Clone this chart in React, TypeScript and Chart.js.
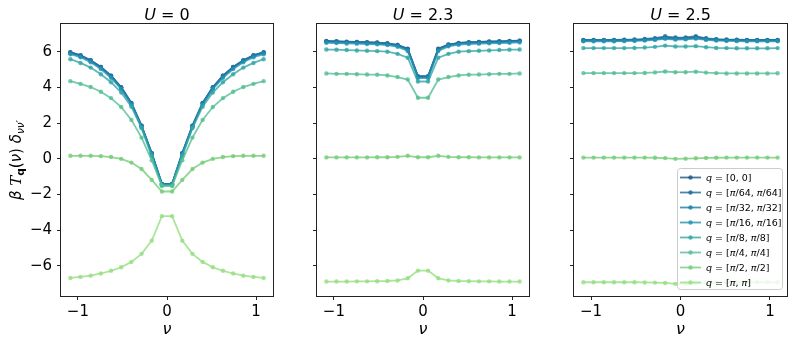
import React, { useEffect, useRef } from "react";
import Chart from "chart.js/auto";

// Matsubara frequencies nu
const NU = [-1.0853, -0.971, -0.8568, -0.7426, -0.6283, -0.5141, -0.3998, -0.2856, -0.1714, -0.0571,
  0.0571, 0.1714, 0.2856, 0.3998, 0.5141, 0.6283, 0.7426, 0.8568, 0.971, 1.0853];

const X_TICKS = [-1, 0, 1];
const Y_TICKS = [-6, -4, -2, 0, 2, 4, 6];

const Q_LABELS = ["[0, 0]", "[π/64, π/64]", "[π/32, π/32]", "[π/16, π/16]", "[π/8, π/8]", "[π/4, π/4]", "[π/2, π/2]", "[π, π]"];
const Q_COLORS = [
  [30, 86, 134], [31, 104, 152], [28, 124, 168], [34, 146, 178],
  [50, 166, 165], [84, 190, 148], [116, 205, 120], [150, 222, 130],
];
const PANEL_TITLES = ["0", "2.3", "2.5"];

// U = 0
const U0_Q0 = [5.97, 5.8, 5.52, 5.15, 4.66, 4.01, 3.13, 1.86, 0.32, -1.4, -1.4, 0.32, 1.86, 3.13, 4.01, 4.66, 5.15, 5.52, 5.8, 5.97];
const U0_Q1 = [5.96, 5.79, 5.51, 5.14, 4.65, 4.0, 3.12, 1.85, 0.31, -1.41, -1.41, 0.31, 1.85, 3.12, 4.0, 4.65, 5.14, 5.51, 5.79, 5.96];
const U0_Q2 = [5.93, 5.76, 5.48, 5.11, 4.62, 3.97, 3.09, 1.82, 0.28, -1.42, -1.42, 0.28, 1.82, 3.09, 3.97, 4.62, 5.11, 5.48, 5.76, 5.93];
const U0_Q3 = [5.86, 5.69, 5.41, 5.03, 4.54, 3.9, 3.03, 1.77, 0.24, -1.45, -1.45, 0.24, 1.77, 3.03, 3.9, 4.54, 5.03, 5.41, 5.69, 5.86];
const U0_Q4 = [5.58, 5.37, 5.11, 4.74, 4.29, 3.71, 2.92, 1.72, 0.15, -1.48, -1.48, 0.15, 1.72, 2.92, 3.71, 4.29, 4.74, 5.11, 5.37, 5.58];
const U0_Q5 = [4.35, 4.2, 4.02, 3.76, 3.4, 2.9, 2.18, 1.19, -0.08, -1.52, -1.52, -0.08, 1.19, 2.18, 2.9, 3.4, 3.76, 4.02, 4.2, 4.35];
const U0_Q6 = [0.17, 0.17, 0.17, 0.15, 0.1, 0.0, -0.21, -0.57, -1.18, -1.83, -1.83, -1.18, -0.57, -0.21, 0.0, 0.1, 0.15, 0.17, 0.17, 0.17];
const U0_Q7 = [-6.67, -6.61, -6.54, -6.42, -6.27, -6.07, -5.77, -5.32, -4.58, -3.21, -3.21, -4.58, -5.32, -5.77, -6.07, -6.27, -6.42, -6.54, -6.61, -6.67];

// U = 2.3
const U23_Q0 = [6.6, 6.58, 6.56, 6.55, 6.53, 6.51, 6.47, 6.38, 6.17, 4.63, 4.63, 6.17, 6.4, 6.49, 6.53, 6.55, 6.57, 6.58, 6.6, 6.62];
const U23_Q1 = [6.59, 6.57, 6.55, 6.54, 6.52, 6.5, 6.46, 6.37, 6.15, 4.62, 4.62, 6.15, 6.39, 6.48, 6.52, 6.54, 6.56, 6.57, 6.59, 6.61];
const U23_Q2 = [6.56, 6.54, 6.52, 6.51, 6.49, 6.47, 6.43, 6.34, 6.11, 4.58, 4.58, 6.11, 6.36, 6.45, 6.49, 6.51, 6.53, 6.54, 6.56, 6.58];
const U23_Q3 = [6.5, 6.48, 6.46, 6.45, 6.43, 6.41, 6.37, 6.28, 6.04, 4.52, 4.52, 6.04, 6.3, 6.39, 6.43, 6.45, 6.47, 6.48, 6.5, 6.52];
const U23_Q4 = [6.12, 6.11, 6.09, 6.07, 6.05, 6.03, 6.0, 5.88, 5.66, 4.33, 4.33, 5.66, 5.88, 6.0, 6.03, 6.05, 6.07, 6.09, 6.11, 6.12];
const U23_Q5 = [4.78, 4.76, 4.76, 4.74, 4.72, 4.71, 4.67, 4.58, 4.44, 3.42, 3.42, 4.44, 4.58, 4.67, 4.71, 4.72, 4.74, 4.76, 4.76, 4.78];
const U23_Q6 = [0.08, 0.08, 0.08, 0.08, 0.08, 0.09, 0.09, 0.11, 0.17, 0.09, 0.09, 0.17, 0.11, 0.09, 0.09, 0.08, 0.08, 0.08, 0.08, 0.08];
const U23_Q7 = [-6.87, -6.87, -6.87, -6.86, -6.86, -6.85, -6.84, -6.81, -6.69, -6.26, -6.26, -6.69, -6.81, -6.84, -6.85, -6.86, -6.86, -6.87, -6.87, -6.87];

// U = 2.5
const U25_Q0 = [6.64, 6.64, 6.64, 6.64, 6.65, 6.66, 6.68, 6.72, 6.78, 6.75, 6.76, 6.8, 6.72, 6.68, 6.66, 6.65, 6.64, 6.64, 6.64, 6.64];
const U25_Q1 = [6.66, 6.66, 6.66, 6.66, 6.67, 6.68, 6.71, 6.76, 6.86, 6.79, 6.8, 6.87, 6.75, 6.7, 6.68, 6.67, 6.66, 6.66, 6.66, 6.66];
const U25_Q2 = [6.63, 6.63, 6.63, 6.63, 6.64, 6.65, 6.67, 6.7, 6.76, 6.72, 6.73, 6.77, 6.7, 6.67, 6.65, 6.64, 6.63, 6.63, 6.63, 6.63];
const U25_Q3 = [6.58, 6.58, 6.58, 6.58, 6.59, 6.6, 6.62, 6.66, 6.72, 6.68, 6.69, 6.73, 6.66, 6.62, 6.6, 6.59, 6.58, 6.58, 6.58, 6.58];
const U25_Q4 = [6.2, 6.2, 6.2, 6.2, 6.2, 6.21, 6.23, 6.27, 6.34, 6.29, 6.29, 6.31, 6.25, 6.21, 6.2, 6.19, 6.19, 6.19, 6.19, 6.2];
const U25_Q5 = [4.8, 4.8, 4.8, 4.8, 4.8, 4.8, 4.81, 4.84, 4.89, 4.85, 4.85, 4.88, 4.83, 4.8, 4.78, 4.78, 4.78, 4.78, 4.78, 4.79];
const U25_Q6 = [0.07, 0.07, 0.07, 0.07, 0.07, 0.07, 0.07, 0.06, 0.04, 0.0, 0.01, 0.03, 0.05, 0.06, 0.07, 0.07, 0.07, 0.07, 0.07, 0.07];
const U25_Q7 = [-6.91, -6.91, -6.91, -6.91, -6.91, -6.91, -6.92, -6.93, -6.95, -7.0, -6.99, -6.96, -6.93, -6.92, -6.91, -6.91, -6.91, -6.91, -6.91, -6.91];

const PANEL_SERIES = [
  [U0_Q0, U0_Q1, U0_Q2, U0_Q3, U0_Q4, U0_Q5, U0_Q6, U0_Q7],
  [U23_Q0, U23_Q1, U23_Q2, U23_Q3, U23_Q4, U23_Q5, U23_Q6, U23_Q7],
  [U25_Q0, U25_Q1, U25_Q2, U25_Q3, U25_Q4, U25_Q5, U25_Q6, U25_Q7],
];

const W = 793;
const H = 346;
const PLOT_LR = [[61, 273], [317, 529], [574, 787]];
const PLOT_TOP = 24;
const PLOT_BOTTOM = 296;
const FONT = "'DejaVu Sans', sans-serif";
const ALPHA = 0.8;

const rgba = (c: number[], a: number) => `rgba(${c[0]},${c[1]},${c[2]},${a})`;
const fmt = (v: number) => (v < 0 ? "\u2212" + Math.abs(v) : String(v));

type Piece = { t: string; f: string; dy?: number };
function drawPieces(ctx: CanvasRenderingContext2D, pieces: Piece[], cx: number, y: number, align: "center" | "left") {
  let total = 0;
  for (const p of pieces) {
    ctx.font = p.f;
    total += ctx.measureText(p.t).width;
  }
  let x = align === "center" ? cx - total / 2 : cx;
  ctx.textAlign = "left";
  ctx.textBaseline = "alphabetic";
  for (const p of pieces) {
    ctx.font = p.f;
    ctx.fillText(p.t, x, y + (p.dy || 0));
    x += ctx.measureText(p.t).width;
  }
}

function labelPieces(s: string, size: number): Piece[] {
  const out: Piece[] = [];
  for (const ch of s) {
    out.push({ t: ch, f: ch === "π" ? `italic ${size}px ${FONT}` : `${size}px ${FONT}` });
  }
  return out;
}

export default function App() {
  const refs = [useRef<HTMLCanvasElement>(null), useRef<HTMLCanvasElement>(null), useRef<HTMLCanvasElement>(null)];

  useEffect(() => {
    const charts: Chart[] = [];
    PANEL_SERIES.forEach((series, p) => {
      const canvas = refs[p].current;
      if (!canvas) return;
      const [L, R] = PLOT_LR[p];

      const decor = {
        id: "decor" + p,
        afterDatasetsDraw(chart: any) {
          const ctx = chart.ctx as CanvasRenderingContext2D;
          const a = chart.chartArea;
          ctx.save();
          ctx.strokeStyle = "#222";
          ctx.lineWidth = 1;
          ctx.strokeRect(Math.round(a.left) - 0.5, Math.round(a.top) - 0.5, Math.round(a.right - a.left) + 1, Math.round(a.bottom - a.top) + 1);
          ctx.restore();
        },
        afterDraw(chart: any) {
          const ctx = chart.ctx as CanvasRenderingContext2D;
          const a = chart.chartArea;
          const cx = (a.left + a.right) / 2;
          ctx.save();
          ctx.fillStyle = "#000";
          // title
          drawPieces(ctx, [
            { t: "U", f: `italic 16px ${FONT}` },
            { t: " = " + PANEL_TITLES[p], f: `16px ${FONT}` },
          ], cx, 20, "center");
          // x title
          drawPieces(ctx, [{ t: "ν", f: `italic 16px ${FONT}` }], cx, 334, "center");
          if (p === 0) {
            ctx.save();
            ctx.translate(21, (a.top + a.bottom) / 2);
            ctx.rotate(-Math.PI / 2);
            drawPieces(ctx, [
              { t: "β ", f: `italic 15px ${FONT}` },
              { t: "T", f: `italic 15px 'DejaVu Serif', serif` },
              { t: "q", f: `bold 10.5px ${FONT}`, dy: 3 },
              { t: "(", f: `15px ${FONT}` },
              { t: "ν", f: `italic 15px ${FONT}` },
              { t: ") ", f: `15px ${FONT}` },
              { t: "δ", f: `italic 15px ${FONT}` },
              { t: "νν′", f: `italic 10.5px ${FONT}`, dy: 3 },
            ], 0, 0, "center");
            ctx.restore();
          }
          if (p === 2) {
            // legend
            const bx = 677, by = 168, bw = 105, bh = 121;
            ctx.beginPath();
            (ctx as any).roundRect(bx + 0.5, by + 0.5, bw, bh, 3);
            ctx.fillStyle = "rgba(255,255,255,0.8)";
            ctx.fill();
            ctx.strokeStyle = "#cccccc";
            ctx.lineWidth = 1;
            ctx.stroke();
            Q_LABELS.forEach((lab, i) => {
              const yc = 177.5 + 15 * i;
              const col = rgba(Q_COLORS[i], ALPHA);
              ctx.strokeStyle = col;
              ctx.lineWidth = 1.8;
              ctx.beginPath();
              ctx.moveTo(680, yc);
              ctx.lineTo(701, yc);
              ctx.stroke();
              ctx.fillStyle = col;
              ctx.beginPath();
              ctx.arc(690.5, yc, 2.2, 0, Math.PI * 2);
              ctx.fill();
              ctx.fillStyle = "#000";
              drawPieces(ctx, [
                { t: "q", f: `italic 9.5px ${FONT}` },
                { t: " = ", f: `9.5px ${FONT}` },
                ...labelPieces(lab, 9.5),
              ], 706, yc + 3.5, "left");
            });
          }
          ctx.restore();
        },
      };

      const chart = new Chart(canvas, {
        type: "line",
        data: {
          datasets: series.map((vals, i) => ({
            label: "q = " + Q_LABELS[i],
            data: NU.map((x, j) => ({ x, y: vals[j] })),
            borderColor: rgba(Q_COLORS[i], ALPHA),
            backgroundColor: rgba(Q_COLORS[i], ALPHA),
            pointRadius: 2.2,
            pointBorderWidth: 0,
            borderWidth: 1.8,
            tension: 0,
            order: -i,
          })),
        },
        options: {
          responsive: false,
          animation: false,
          devicePixelRatio: 1,
          events: [],
          layout: { padding: { left: 0, right: W - R, top: PLOT_TOP, bottom: 0 } },
          plugins: { legend: { display: false }, tooltip: { enabled: false }, title: { display: false } },
          scales: {
            x: {
              type: "linear",
              min: -1.19,
              max: 1.19,
              afterFit: (s: any) => { s.height = H - PLOT_BOTTOM; },
              afterBuildTicks: (s: any) => { s.ticks = X_TICKS.map((v) => ({ value: v })); },
              ticks: { color: "#000", font: { family: FONT, size: 15 }, padding: 3, maxRotation: 0, autoSkip: false, callback: (v: any) => fmt(Number(v)) },
              grid: { drawOnChartArea: false, drawTicks: true, tickLength: 4, color: "#222", lineWidth: 1 },
              border: { display: false },
            },
            y: {
              type: "linear",
              min: -7.68,
              max: 7.55,
              afterFit: (s: any) => { s.width = L; },
              afterBuildTicks: (s: any) => { s.ticks = Y_TICKS.map((v) => ({ value: v })); },
              ticks: { color: "#000", font: { family: FONT, size: 15 }, padding: 5, autoSkip: false, callback: (v: any) => (p === 0 ? fmt(Number(v)) : "") },
              grid: { drawOnChartArea: false, drawTicks: true, tickLength: 4, color: "#222", lineWidth: 1 },
              border: { display: false },
            },
          },
        } as any,
        plugins: [decor],
      });
      charts.push(chart);
    });
    return () => charts.forEach((c) => c.destroy());
  }, []);

  return (
    <div style={{ position: "absolute", left: 0, top: 0, width: W, height: H, background: "#fff" }}>
      {refs.map((r, i) => (
        <canvas key={i} ref={r} width={W} height={H} style={{ position: "absolute", left: 0, top: 0, width: W, height: H }} />
      ))}
    </div>
  );
}
